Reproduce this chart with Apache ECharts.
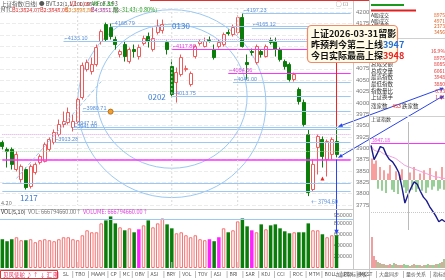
<!DOCTYPE html>
<html><head><meta charset="utf-8">
<script src="https://cdn.jsdelivr.net/npm/echarts@6/dist/echarts.min.js"></script>
<style>html,body{margin:0;padding:0;background:#fff}#c{width:445px;height:280px}</style>
</head><body><div id="c"></div>
<script>
const dates=['2025-12-10','2025-12-11','2025-12-12','2025-12-15','2025-12-16','2025-12-17','2025-12-18','2025-12-19','2025-12-22','2025-12-23','2025-12-24','2025-12-25','2025-12-26','2025-12-29','2025-12-30','2025-12-31','2026-01-05','2026-01-06','2026-01-07','2026-01-08','2026-01-09','2026-01-12','2026-01-13','2026-01-14','2026-01-15','2026-01-16','2026-01-19','2026-01-20','2026-01-21','2026-01-22','2026-01-23','2026-01-26','2026-01-27','2026-01-28','2026-01-29','2026-01-30','2026-02-02','2026-02-03','2026-02-04','2026-02-05','2026-02-06','2026-02-09','2026-02-10','2026-02-11','2026-02-12','2026-02-13','2026-02-24','2026-02-25','2026-02-26','2026-02-27','2026-03-02','2026-03-03','2026-03-04','2026-03-05','2026-03-06','2026-03-09','2026-03-10','2026-03-11','2026-03-12','2026-03-13','2026-03-16','2026-03-17','2026-03-18','2026-03-19','2026-03-20','2026-03-23','2026-03-24','2026-03-25','2026-03-26','2026-03-27','2026-03-30','2026-03-31'];
const opens=[3912.8,3897.4,3897.4,3853.2,3831.1,3853.2,3815.7,3846.6,3868.8,3871.0,3897.4,3912.8,3930.4,3952.3,3956.7,3945.7,3958.9,4011.8,4073.4,4069.0,4084.4,4135.1,4172.5,4165.9,4139.5,4106.5,4128.5,4091.0,4117.5,4102.1,4130.7,4146.1,4117.5,4154.9,4159.3,4132.9,4080.0,4044.8,4062.4,4073.4,4040.4,4102.1,4130.7,4124.1,4139.5,4117.5,4124.1,4128.5,4154.9,4150.5,4154.9,4188.0,4088.8,4113.1,4088.8,4113.1,4102.1,4137.3,4135.1,4117.5,4091.0,4084.4,4051.4,4029.4,4000.7,3930.4,3809.1,3901.8,3919.4,3875.4,3886.4,3915.0];
const closes=[3904.0,3893.0,3864.4,3886.4,3860.0,3813.5,3860.0,3864.4,3882.0,3908.4,3919.4,3934.7,3952.3,3958.9,3978.7,3958.9,4007.3,4082.2,4088.8,4084.4,4121.9,4157.1,4139.5,4146.1,4128.5,4113.1,4102.1,4117.5,4113.1,4121.9,4141.7,4135.1,4141.7,4168.1,4172.5,4117.5,4018.4,4066.8,4099.8,4075.6,4064.6,4124.1,4135.1,4135.1,4137.3,4099.8,4132.9,4150.5,4152.7,4165.9,4188.0,4124.1,4084.4,4110.9,4124.1,4106.5,4124.1,4132.9,4117.5,4095.4,4080.0,4051.4,4062.4,4002.9,3952.3,3802.5,3864.4,3926.0,3882.0,3915.0,3919.4,3886.4];
const lows=[3897.4,3857.6,3853.2,3848.8,3824.5,3809.1,3811.3,3842.2,3864.4,3868.8,3893.0,3908.4,3926.0,3945.7,3952.3,3936.9,3954.5,4007.3,4069.0,4062.4,4080.0,4128.5,4135.1,4139.5,4117.5,4099.8,4091.0,4086.6,4099.8,4095.4,4126.3,4121.9,4113.1,4150.5,4152.7,4106.5,4011.8,4000.7,4058.0,4069.0,4036.0,4097.6,4126.3,4121.9,4132.9,4095.4,4119.7,4124.1,4148.3,4146.1,4150.5,4121.9,4051.4,4104.3,4084.4,4099.8,4099.8,4128.5,4102.1,4091.0,4073.4,4047.0,4047.0,3996.3,3947.9,3794.6,3804.7,3842.2,3857.6,3837.8,3875.4,3879.8];
const highs=[3917.0,3901.8,3901.8,3893.0,3864.4,3857.6,3864.4,3868.8,3886.4,3912.8,3923.8,3941.3,3963.3,3980.9,3989.7,3974.3,4014.0,4088.8,4095.4,4099.8,4128.5,4161.5,4176.9,4174.7,4146.1,4117.5,4135.1,4121.9,4128.5,4128.5,4148.3,4154.9,4165.9,4183.5,4183.5,4137.3,4095.4,4077.8,4106.5,4082.2,4069.0,4128.5,4139.5,4143.9,4146.1,4128.5,4139.5,4154.9,4161.5,4172.5,4192.4,4197.23,4106.5,4119.7,4128.5,4117.5,4128.5,4143.9,4143.9,4121.9,4095.4,4088.8,4066.8,4033.8,4007.3,3941.3,3875.4,3930.4,3926.0,3919.4,3923.8,3948.0];
const volumes=[515600,480000,515600,551100,497800,497800,515600,462200,497800,515600,497800,480000,515600,551100,551100,515600,497800,586700,675600,640000,640000,800000,853300,924500,800000,728900,675600,711100,640000,693300,764500,853300,728900,800000,888900,782200,711100,622200,640000,586700,551100,586700,515600,497800,515600,480000,551100,711100,640000,675600,835600,888900,746700,675600,640000,782200,693300,764500,782200,711100,657800,622200,640000,640000,640000,800000,675600,675600,604500,551100,586700,586700];
const magentaVolIdx=[29,44,46,53];
const blueLevels=[[51,4197.23],[23,4168.79],[53,4165.12],[13,4135.10],[49,4046.00],[36,4013.75],[17,3980.71],[15,3947.16],[15,3941.00],[11,3913.28],[0,3822.50],[0,3805.00]];
const magentaLevels=[[36,4117.86],[48,4064.56],[0,3875.40]];
const pinkDotLevels=[[31,4139.50],[0,3930.40]];
const greenDotLevels=[[0,3893.00]];
const trendLine=[[3,3833.4],[21,4047.0]];
const circles=[[36.2,4014.6,15.3,158.6],[35.6,3998.3,20.8,207.0]];
const monthStarts=[16,36,50];
const volLevel=871000;
const markLabels=[[5,'1217'],[35,'0130'],[36,'0202']];
const miniPrice=[3945,3933,3938,3944,3943,3937,3933,3931,3927,3922,3910,3896,3903,3909,3914,3912,3906,3901,3898,3893,3889,3885,3880,3882,3880];
const miniAvg=[3945,3941,3940,3940,3938,3937,3936,3935,3934,3932,3930,3928,3927,3926,3925,3924,3923,3922,3921,3920,3919,3918,3918,3917,3917];
const miniFlow=[20,15,18,-8,12,-10,9,-12,6,14,-9,-11,8,-13,5,10,-7,-12,-10,7,-9,12,-11,-8,6,-10,9,-12,-7,11,-9,-6,8,-10,-8,12,-9];
const miniVol=[31,12,8,6,5,4,4,3,3,4,3,5,4,3,3,3,4,3,3,2,3,4,3,3,3,2,3,3,4,3,3,3,4,4,5,6,9];
const miniRef=3947.18;

const cats=dates.concat(['','','']);
const BLUE='#9cc8f2',MAG='#ff33ff',RED='#f05a5a',GRN='#0b7d0b';
const chart=echarts.init(document.getElementById('c'),null,{renderer:'canvas'});
const lastIdx=cats.length-1;
function lvl(arr,color,width,type,label){
  return arr.map(a=>[{coord:[a[0],a[1]],lineStyle:{color:color,width:width,type:type},label:{show:label,formatter:'⌐'+a[1].toFixed(2),position:'insideStartTop',fontSize:5.5,color:color==MAG?'#e040e0':'#5a90d8',distance:[1,0]}},{coord:[lastIdx,a[1]]}]);
}
const mlData=[].concat(
  lvl(blueLevels.slice(0,10),BLUE,1,'solid',true),
  lvl(blueLevels.slice(10),BLUE,1,'solid',false),
  lvl(magentaLevels.slice(0,2),MAG,1,'solid',true),
  lvl(magentaLevels.slice(2),MAG,1.6,'solid',false),
  lvl(pinkDotLevels,'#e8a0e8',1,'dotted',false),
  lvl(greenDotLevels,'#a8d8a8',1,'dotted',false),
  [[{coord:trendLine[0],lineStyle:{color:BLUE,width:1,type:'dashed'}},{coord:trendLine[1]}]]
);
const volData=volumes.map((v,i)=>{
  const up=closes[i]>=opens[i];
  let st=up?{color:'#fff',borderColor:'#f57070',borderWidth:1}:{color:GRN};
  if(magentaVolIdx.includes(i)) st={color:'#ff22ff'};
  return {value:v,itemStyle:st};
});
const option={
  animation:false,
  backgroundColor:'#fff',
  grid:[{left:0,top:8,width:353,height:197},{left:0,top:215,width:353,height:53},{left:371,top:122,width:74,height:108},{left:371,top:236,width:74,height:32}],
  xAxis:[
    {type:'category',data:cats,gridIndex:0,axisLine:{show:false},axisTick:{show:false},axisLabel:{show:false},splitLine:{show:false}},
    {type:'category',data:cats,gridIndex:1,axisLine:{show:false},axisTick:{show:false},axisLabel:{show:false}},
    {type:'category',data:miniPrice.map((v,i)=>i),gridIndex:2,boundaryGap:false,show:false},
    {type:'category',data:miniVol.map((v,i)=>i),gridIndex:3,show:false},
    {type:'category',data:miniFlow.map((v,i)=>i),gridIndex:2,show:false}
  ],
  yAxis:[
    {type:'value',gridIndex:0,min:3775,max:4209,interval:25,position:'right',axisLine:{show:false},axisTick:{show:false},
     axisLabel:{fontSize:6,color:'#777',margin:3,formatter:v=>v.toFixed(0)},splitLine:{lineStyle:{color:'#ececec',type:'dashed'}}},
    {type:'value',gridIndex:1,min:0,max:950000,interval:200000,position:'right',axisLine:{show:false},axisTick:{show:false},
     axisLabel:{inside:true,fontSize:5.5,color:'#777',margin:1,formatter:v=>v?v:''},splitLine:{show:false}},
    {type:'value',gridIndex:2,min:3873,max:3965,show:false},
    {type:'value',gridIndex:3,min:0,max:32,show:false},
    {type:'value',gridIndex:2,min:-46.3,max:53.7,show:false}
  ],
  series:[
    {type:'candlestick',xAxisIndex:0,yAxisIndex:0,barWidth:3.5,
     data:opens.map((o,i)=>[o,closes[i],lows[i],highs[i]]),
     itemStyle:{color:'#fff',color0:GRN,borderColor:RED,borderColor0:GRN,borderWidth:1},
     markLine:{silent:true,symbol:['none','none'],animation:false,data:mlData},z:3},
    {type:'bar',xAxisIndex:1,yAxisIndex:1,barWidth:3.5,data:volData,
     markLine:{silent:true,symbol:['none','none'],label:{show:false},data:[{yAxis:volLevel,lineStyle:{color:BLUE,width:1,type:'solid'}}]}},
    {type:'bar',xAxisIndex:4,yAxisIndex:4,barWidth:0.8,data:miniFlow.map(v=>({value:v,itemStyle:{color:v>0?'#f04040':'#30a030'}}))},
    {type:'line',xAxisIndex:2,yAxisIndex:2,data:miniAvg,symbol:'none',lineStyle:{color:'#f0a0e0',width:1}},
    {type:'line',xAxisIndex:2,yAxisIndex:2,data:miniPrice,symbol:'none',lineStyle:{color:'#1a1a8c',width:1.4},
     markLine:{silent:true,symbol:['none','none'],label:{show:false},data:[{yAxis:miniRef,lineStyle:{color:MAG,width:1.2,type:'solid'}},{yAxis:3888,lineStyle:{color:'#c8c8c8',width:1,type:'dotted'}},{xAxis:12,lineStyle:{color:'#bbb',width:1,type:'solid'}}]}},
    {type:'bar',xAxisIndex:3,yAxisIndex:3,data:miniVol.map((v,i)=>({value:v,itemStyle:{color:miniFlow[i]>0?'#e04040':'#30a030'}})),barWidth:1}
  ]
};
chart.setOption(option);

function T(x,y,text,fill,size,weight,align,base){
  return {type:'text',x:x,y:y,silent:true,z:50,style:{text:text,fill:fill,font:(weight||'normal')+' '+size+'px "Noto Sans CJK SC", sans-serif',textAlign:align||'left',textVerticalAlign:base||'middle'}};
}
function L(x1,y1,x2,y2,color,w,dash){return {type:'line',silent:true,z:40,shape:{x1:x1,y1:y1,x2:x2,y2:y2},style:{stroke:color,lineWidth:w||1,lineDash:dash||null}};}
function tri(x,y,ang,color,s){s=s||3;const c=Math.cos(ang),si=Math.sin(ang);
  const p=[[x,y],[x-s*2*c+s*si,y-s*2*si-s*c],[x-s*2*c-s*si,y-s*2*si+s*c]];
  return {type:'polygon',silent:true,z:45,shape:{points:p},style:{fill:color}};}
const px=(i,p)=>chart.convertToPixel({xAxisIndex:0,yAxisIndex:0},[i,p]);
const g=[];
circles.forEach(c=>{const ctr=px(c[0],c[1]);const e=px(c[0]+c[2],c[1]+c[3]);
  g.push({type:'ellipse',silent:true,z:2,shape:{cx:ctr[0],cy:ctr[1],rx:Math.abs(e[0]-ctr[0]),ry:Math.abs(e[1]-ctr[1])},style:{fill:'none',stroke:BLUE,lineWidth:1}});});
monthStarts.forEach(i=>{const a=px(i,4209);const b=px(i,3775);g.push(L(a[0],a[1],b[0],b[1],'#d8d8d8',1,[2,2]));g.push(L(a[0],262,a[0],268,'#ccc',1));});
markLabels.forEach(m=>{const i=m[0];let p;
  if(m[1]==='1217'){p=px(i,lows[i]);g.push(T(p[0]+3,p[1]+8,m[1],'#3a7bd5',8,'normal','center'));}
  else if(m[1]==='0130'){p=px(i,4170);g.push(T(p[0]+5,p[1],m[1],'#3a7bd5',8,'normal','left'));}
  else {p=px(i,4014);g.push(T(p[0]-6,p[1],m[1],'#3a7bd5',8,'normal','right'));}
});
{const p=px(23,3980.71);g.push({type:'circle',silent:true,z:44,shape:{cx:p[0],cy:p[1],r:2.5},style:{fill:'#f0a030',stroke:'#c07010'}});}
{const p=px(65,lows[65]);g.push(T(p[0]+3,p[1]+6,'← 3794.60','#5a90d8',5.5));}
{const p=px(68,lows[68]);g.push(tri(p[0],p[1]+9,-Math.PI/2,'#ee2020',2));}
const last=dates.length-1;
const pH=px(last,highs[last]),pL=px(last,lows[last]);
g.push(L(pH[0],62,pH[0],pH[1],'#ee2020',1));
g.push(L(443,88,pH[0]+2,pH[1],'#2a44e8',1));g.push(tri(pH[0]+2,pH[1],Math.atan2(pH[1]-88,pH[0]+2-443),'#2a44e8',2));
g.push(tri(444,88,Math.atan2(88-pH[1],443-pH[0]-2),'#2a44e8',2));
g.push(L(443,96,pL[0]+2,pL[1],'#2a44e8',1));g.push(tri(pL[0]+2,pL[1],Math.atan2(pL[1]-96,pL[0]+2-443),'#2a44e8',2));
g.push(tri(444,96,Math.atan2(96-pL[1],443-pL[0]-2),'#2a44e8',2));
const vTop=chart.convertToPixel({xAxisIndex:1,yAxisIndex:1},[last,volumes[last]]);
g.push(L(pL[0],pL[1]+2,pL[0],vTop[1]-2,'#2a44e8',1));g.push(tri(pL[0],vTop[1]-1,Math.PI/2,'#2a44e8',2.2));
g.push(L(0,209.5,353,209.5,'#c8c8c8',1));
g.push(L(353.5,0,353.5,270,'#c8c8c8',1));
g.push(L(369.5,0,369.5,280,'#c8c8c8',1));
g.push(L(150,0.5,369,0.5,'#e03030',1));
g.push(L(370,38.5,445,38.5,'#d0d0d0',1));
g.push(L(370,116.5,445,116.5,'#d0d0d0',1));
g.push(L(0,269.5,445,269.5,'#c8c8c8',1));
g.push(T(1,3.5,'上证指数(日线) ● BVT.32(1,1,100) 3849.0F 3.93','#555',5.5));
g.push(T(70,3.5,'VZ: 1.00','#e03030',5.5));
g.push(T(92,3.5,'VIF: 3.88','#20a020',5.5));
g.push(T(1,9.5,'MTC','#555',5.5));
g.push(T(12,9.5,'B1:3824.07','#e03030',5.5));
g.push(T(40,9.5,'B2:3848.05','#e03030',5.5));
g.push(T(65,9.5,'B3:3898.86','#e08020',5.5));
g.push(T(91,9.5,'B4:3851.86','#a03090',5.5));
g.push(T(113,9.5,'限:-31.43(-0.80%)','#20a020',5.5));
g.push(T(348,4,'○ ⊡','#888',6,'normal','right'));
g.push(T(1,212,'VOL(5,10)','#333',5.5));
g.push(T(28,212,'VOL: 666794660.00↑','#777',5.5));
g.push(T(83,212,'VOLUME: 666794660.00↑','#e040e0',5.5));
g.push(T(1,203,'4.20','#777',5.5));
g.push({type:'rect',silent:true,z:60,shape:{x:307.5,y:25.5,width:90,height:37,r:4},style:{fill:'#fffbe6',stroke:'#f08a6a',lineWidth:1.2}});
const AF='bold 9px "Noto Sans CJK SC"';
g.push({type:'text',x:311,y:34,z:61,silent:true,style:{text:'上证2026-03-31留影',fill:'#111',font:AF,textVerticalAlign:'middle'}});
g.push({type:'text',x:311,y:45,z:61,silent:true,style:{text:'{a|昨预判今第二上线}{b|3947}',rich:{a:{fill:'#111',font:AF},b:{fill:'#1e6fe0',font:AF}},textVerticalAlign:'middle'}});
g.push({type:'text',x:311,y:56,z:61,silent:true,style:{text:'{a|今日实际最高上探}{b|3948}',rich:{a:{fill:'#111',font:AF},b:{fill:'#e82020',font:AF}},textVerticalAlign:'middle'}});
g.push({type:'rect',silent:true,shape:{x:371,y:4,width:33,height:2},style:{fill:'#1a9a1a'}});
g.push({type:'rect',silent:true,shape:{x:371,y:9.5,width:45,height:2},style:{fill:'#e02020'}});
const rpTop=['A股成交','A股成交','A股成交','A股成交'];
const rpTopV=['8975','4971','2373','3456'];
rpTop.forEach((t,k)=>{g.push(T(371,15+k*5.6,t,'#333',5));g.push(T(445,15+k*5.6,rpTopV[k],'#e06020',5,'normal','right'));});
const rpRows=['指数涨幅','指数振幅','总成交额','总成交量','最高指数','最低指数','指数量比','上证换手'];
const rpVals=['16.9%','8975','8085','6061','3948','3880','0.93','1.21'];
rpRows.forEach((t,k)=>{g.push(T(371,51+k*6.6,t,'#333',5.5));g.push(T(445,51+k*6.6,rpVals[k],'#e03030',5,'normal','right'));});
g.push(T(371,106,'涨家数','#333',5.5));g.push(T(392,106,'453','#e03030',5.5));g.push(T(402,106,'跌家数','#333',5.5));
g.push(T(371,119,'上证指数','#333',5));
g.push(T(372,140,'3947.18','#e040e0',5));
g.push({type:'rect',silent:true,shape:{x:0.5,y:270.5,width:57,height:8},style:{fill:'#fff',stroke:'#e03030',lineWidth:1}});
g.push(T(3,274.5,'见风使舵 ♪ ↑ ↓ 汇 图','#e03060',5.5));
const tabs=['SL','TBO','MAAM','CP','MC','OBV','ASI','BRY','VOL','TOV','ASI','BRI','SAR','KDJ','CCI','ROC','MTM','BOLL','PSY','MCST','大盘同步','量价关系','指标组'];
let tx=61;tabs.forEach(t=>{const w=t.length*(t.charCodeAt(0)>255?5.5:3.6)+4;g.push(T(tx+2,274.5,t,'#555',5));g.push(L(tx+w+0.5,271,tx+w+0.5,278,'#bbb',1));tx+=w+1;});
g.push(T(336,274.5,'加减指标','#555',5));g.push(T(357,274.5,'模板','#555',5));
chart.setOption({graphic:g});
</script></body></html>
